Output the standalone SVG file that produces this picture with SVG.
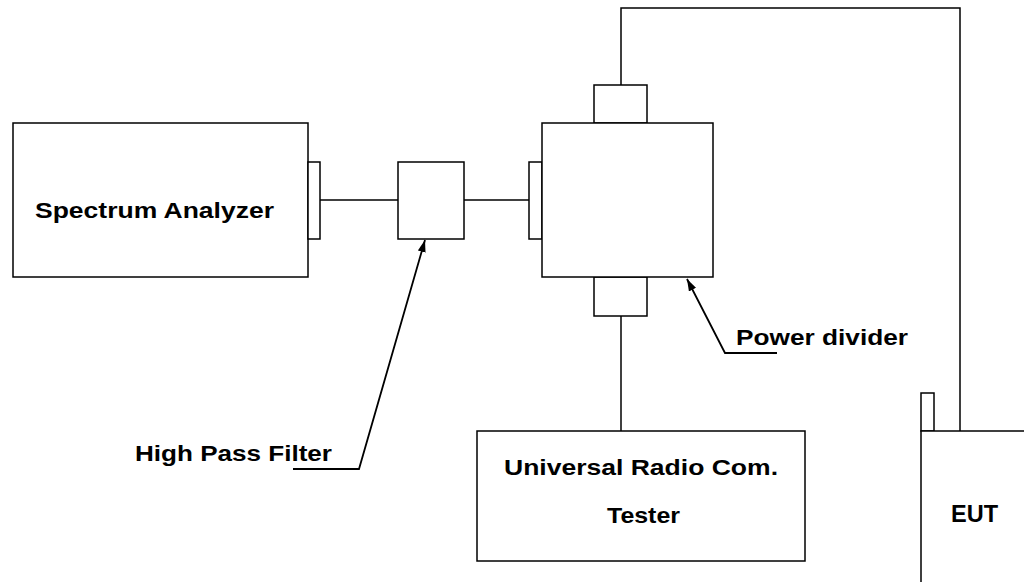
<svg xmlns="http://www.w3.org/2000/svg" width="1024" height="582" viewBox="0 0 1024 582">
<style>
.box{fill:#fff;stroke:#000;stroke-width:1.5}
.ln{fill:none;stroke:#000;stroke-width:1.5}
.ar{fill:none;stroke:#000;stroke-width:1.8}
.t{font-family:"Liberation Sans",Arial,sans-serif;font-weight:bold;font-size:22px;fill:#000}
</style>
<defs>
<marker id="ah" viewBox="0 0 12 8" refX="12" refY="4" markerWidth="12" markerHeight="8" markerUnits="userSpaceOnUse" orient="auto">
<path d="M0,0 L12,4 L0,8 Z" fill="#000"/>
</marker>
</defs>
<rect width="1024" height="582" fill="#fff"/>
<g id="connectors">
<line class="ln" x1="320" y1="200" x2="398" y2="200"/>
<line class="ln" x1="464" y1="200" x2="529" y2="200"/>
<line class="ln" x1="621" y1="316" x2="621" y2="431"/>
<polyline class="ln" points="960,431 960,8 621,8 621,85"/>
<polyline class="ar" points="293,469 359,469 425,240" marker-end="url(#ah)"/>
<polyline class="ar" points="777,353 725,353 687,279" marker-end="url(#ah)"/>
</g>
<g id="spectrum-analyzer">
<rect class="box" x="13" y="123" width="295" height="154"/>
<rect class="box" x="308" y="162" width="12" height="77"/>
<text class="t" x="35" y="218" textLength="239" lengthAdjust="spacingAndGlyphs">Spectrum Analyzer</text>
</g>
<g id="high-pass-filter">
<rect class="box" x="398" y="162" width="66" height="77"/>
<text class="t" x="135" y="461" textLength="197" lengthAdjust="spacingAndGlyphs">High Pass Filter</text>
</g>
<g id="power-divider">
<rect class="box" x="529" y="162" width="13" height="77"/>
<rect class="box" x="594" y="85" width="53" height="38"/>
<rect class="box" x="594" y="277" width="53" height="39"/>
<rect class="box" x="542" y="123" width="171" height="154"/>
<text class="t" x="736" y="345" textLength="172" lengthAdjust="spacingAndGlyphs">Power divider</text>
</g>
<g id="universal-radio-tester">
<rect class="box" x="477" y="431" width="328" height="130"/>
<text class="t" x="504" y="475" textLength="274" lengthAdjust="spacingAndGlyphs">Universal Radio Com.</text>
<text class="t" x="607" y="523" textLength="73" lengthAdjust="spacingAndGlyphs">Tester</text>
</g>
<g id="eut">
<rect class="box" x="921" y="393" width="13" height="38"/>
<rect class="box" x="921" y="431" width="140" height="180"/>
<text class="t" x="951" y="522" style="font-size:24px" textLength="47" lengthAdjust="spacingAndGlyphs">EUT</text>
</g>
</svg>
